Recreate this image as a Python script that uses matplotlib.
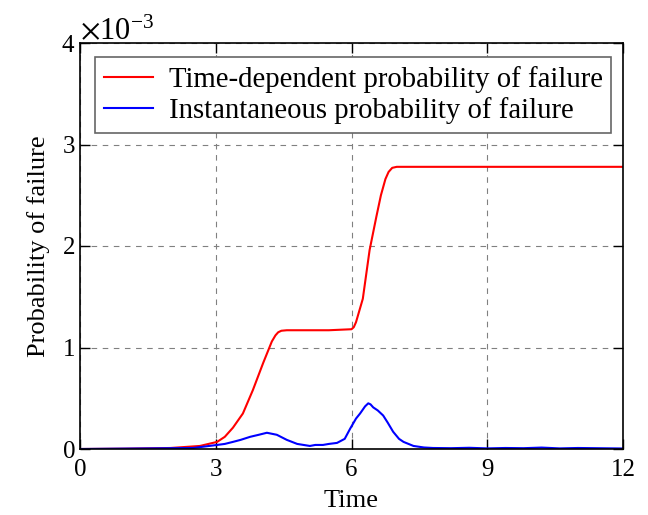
import matplotlib
matplotlib.use("Agg")
import matplotlib.pyplot as plt
import numpy as np

plt.rcParams['font.family'] = ['Liberation Serif', 'DejaVu Serif']
plt.rcParams['mathtext.fontset'] = 'stix'
plt.rcParams['font.size'] = 18

# 时变失效概率 (×1e-3)
t_cum = [0, 1.0, 2.0, 2.65, 3.03, 3.2, 3.38, 3.6, 3.82, 4.05, 4.24, 4.32, 4.38, 4.45, 4.57,
         5.0, 5.5, 6.0, 6.05, 6.1, 6.25, 6.4, 6.55, 6.65, 6.75, 6.82, 6.9, 7.0, 9.0, 12.0]
pf_cum = [0, 0.003, 0.01, 0.03, 0.07, 0.12, 0.21, 0.35, 0.58, 0.85, 1.06, 1.12, 1.15, 1.165, 1.17,
          1.17, 1.17, 1.18, 1.2, 1.25, 1.48, 1.96, 2.29, 2.5, 2.66, 2.73, 2.77, 2.78, 2.78, 2.78]

# 瞬时失效概率 (×1e-3)
t_ins = [0, 0.5, 1.0, 1.5, 2.0, 2.5, 3.03, 3.2, 3.38, 3.55, 3.76, 3.95, 4.13, 4.35,
         4.57, 4.8, 5.08, 5.2, 5.37, 5.5, 5.68, 5.85, 5.97, 6.1, 6.19, 6.3, 6.37, 6.42,
         6.48, 6.58, 6.7, 6.8, 6.92, 7.05, 7.15, 7.37, 7.6, 7.8, 8.2, 8.6, 9.0, 9.4,
         9.8, 10.2, 10.6, 11.0, 11.4, 11.8, 12.0]
pf_ins = [0, 0.002, 0.004, 0.006, 0.008, 0.01, 0.04, 0.05, 0.07, 0.09, 0.12, 0.14, 0.16, 0.14,
          0.09, 0.05, 0.03, 0.04, 0.04, 0.05, 0.06, 0.1, 0.2, 0.3, 0.35, 0.42, 0.45, 0.44,
          0.41, 0.38, 0.33, 0.26, 0.17, 0.1, 0.07, 0.03, 0.015, 0.01, 0.008, 0.012, 0.006, 0.01,
          0.008, 0.014, 0.006, 0.01, 0.008, 0.006, 0.005]

fig = plt.figure(figsize=(6.48, 5.15), dpi=100)
ax = fig.add_axes([80 / 648, 66 / 515, 543 / 648, 406 / 515])

ax.plot(t_cum, np.array(pf_cum) * 1e-3, color='red', lw=1.5,
        label='Time-dependent probability of failure')
ax.plot(t_ins, np.array(pf_ins) * 1e-3, color='blue', lw=1.5,
        label='Instantaneous probability of failure')

ax.set_xlim(0, 12)
ax.set_ylim(0, 4e-3)
ax.set_xticks([0, 3, 6, 9, 12])
ax.set_yticks([0, 1e-3, 2e-3, 3e-3, 4e-3])
ax.ticklabel_format(axis='y', style='sci', scilimits=(0, 0), useMathText=True)
off = ax.yaxis.get_offset_text()
off.set_fontsize(22)
off.set_y(1.01)
ax.tick_params(direction='in', top=True, right=True, length=7, width=1, labelsize=18)
ax.tick_params(axis='x', pad=7)
ax.grid(True, color='gray', ls=(0, (5, 5)), lw=0.8)
for s in ax.spines.values():
    s.set_linewidth(1.2)
ax.set_xlabel('Time', fontsize=19, labelpad=7)
ax.set_ylabel('Probability of failure', fontsize=19, labelpad=8)

leg = ax.legend(loc='upper left', bbox_to_anchor=(0.028, 0.965), fancybox=False,
                edgecolor='#666666', framealpha=1, handlelength=1.7, handletextpad=0.55,
                borderpad=0.3, labelspacing=0.15, borderaxespad=0, fontsize=20.7)
leg.get_frame().set_linewidth(1.2)

fig.savefig('out.png', dpi=100)
